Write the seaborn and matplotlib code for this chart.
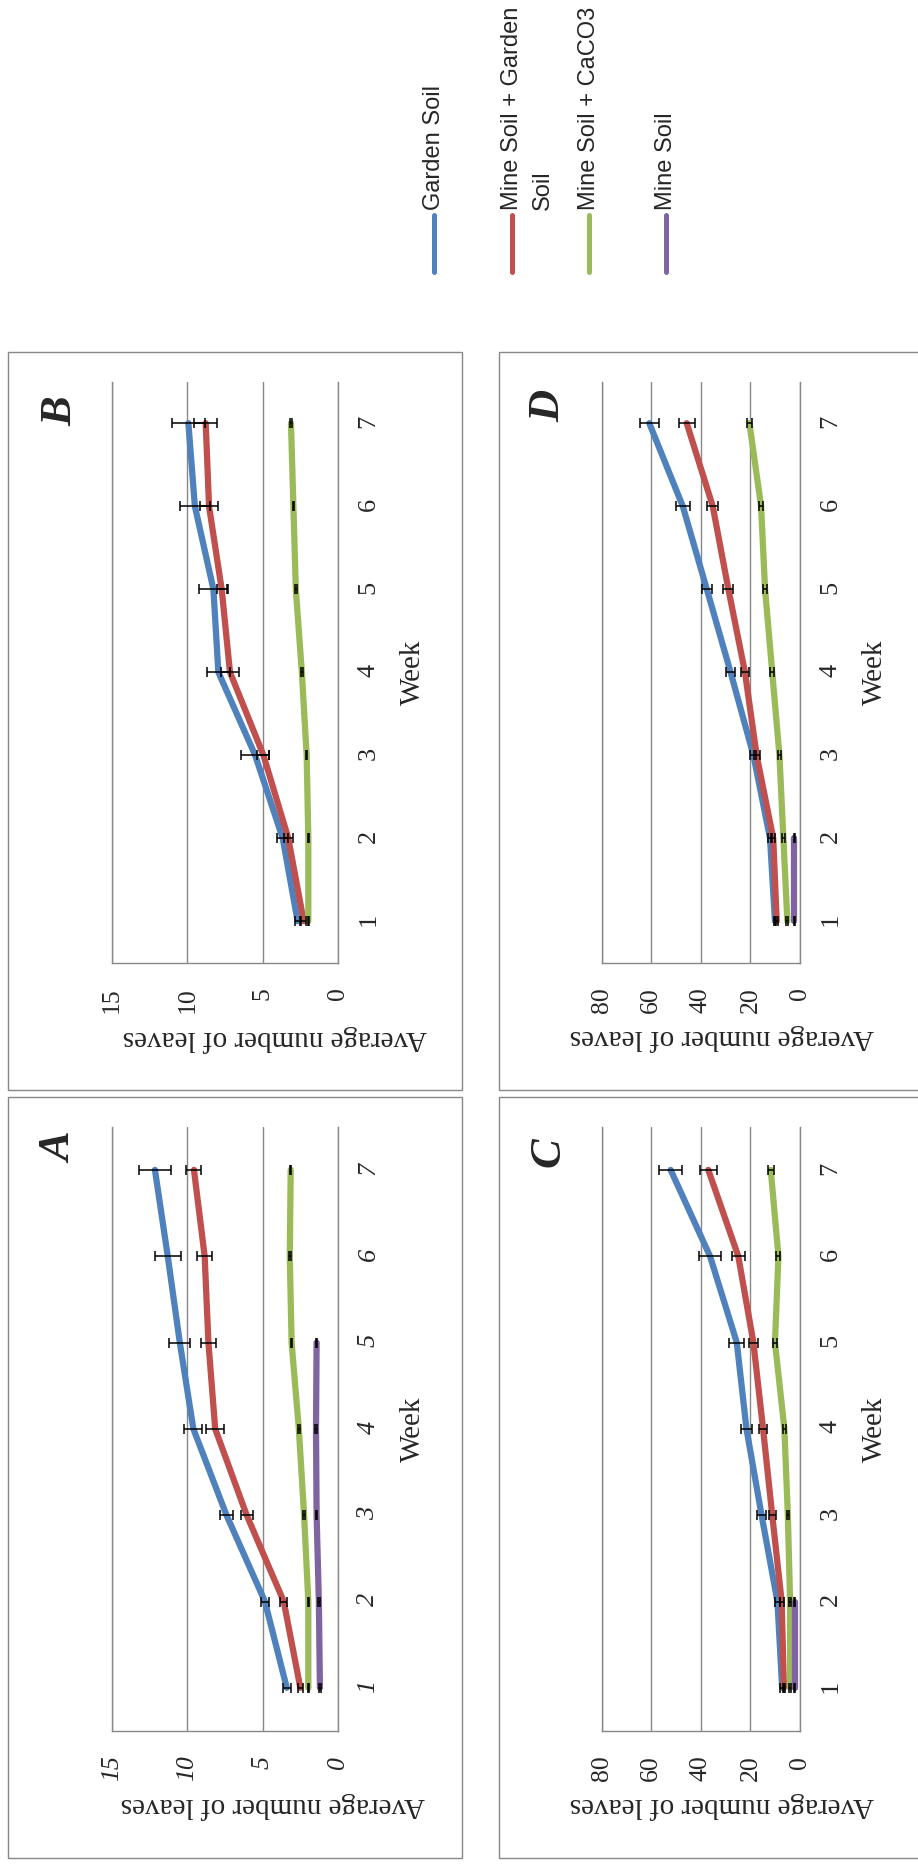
import matplotlib
matplotlib.use("Agg")
import matplotlib.pyplot as plt
from matplotlib.lines import Line2D
from matplotlib.patches import Rectangle
import numpy as np
import pandas as pd
import seaborn as sns

# ── Data ────────────────────────────────────────────────
SOILS = ["Garden Soil", "Mine Soil + Garden Soil", "Mine Soil + CaCO3", "Mine Soil"]
COLORS = ["#4F81BD", "#C0504D", "#9BBB59", "#8064A2"]
WEEKS = [1, 2, 3, 4, 5, 6, 7]
NA = np.nan

# Panel A
a_garden = [3.4, 4.85, 7.4, 9.6, 10.5, 11.3, 12.15]
a_garden_err = [0.25, 0.28, 0.44, 0.59, 0.71, 0.86, 1.07]
a_mix = [2.5, 3.6, 6.06, 8.15, 8.6, 8.85, 9.56]
a_mix_err = [0.17, 0.22, 0.39, 0.6, 0.48, 0.5, 0.5]
a_caco3 = [1.97, 1.97, 2.25, 2.6, 3.08, 3.2, 3.14]
a_caco3_err = [0.05, 0.05, 0.05, 0.05, 0.05, 0.05, 0.05]
a_mine = [1.2, 1.27, 1.42, 1.46, 1.42, NA, NA]
a_mine_err = [0.05, 0.05, 0.05, 0.05, 0.05, NA, NA]

# Panel B
b_garden = [2.68, 3.67, 5.5, 7.94, 8.27, 9.5, 9.93]
b_garden_err = [0.18, 0.35, 0.95, 0.77, 0.95, 1.0, 1.08]
b_mix = [2.28, 3.3, 4.95, 7.17, 7.72, 8.56, 8.78]
b_mix_err = [0.15, 0.3, 0.4, 0.58, 0.33, 0.6, 0.75]
b_caco3 = [1.97, 1.97, 2.08, 2.4, 2.8, 2.96, 3.12]
b_caco3_err = [0.05, 0.05, 0.05, 0.05, 0.05, 0.05, 0.05]
b_mine = [NA, NA, NA, NA, NA, NA, NA]
b_mine_err = [NA, NA, NA, NA, NA, NA, NA]

# Panel C
c_garden = [7.2, 9.1, 15.5, 21.6, 25.5, 36.3, 52.2]
c_garden_err = [0.7, 1.0, 1.9, 2.3, 3.0, 4.3, 4.7]
c_mix = [6.5, 7.4, 11.2, 14.9, 18.8, 24.9, 37.0]
c_mix_err = [0.5, 0.8, 1.5, 1.6, 1.9, 2.6, 3.4]
c_caco3 = [4.0, 4.0, 4.9, 6.3, 10.1, 8.7, 11.8]
c_caco3_err = [0.3, 0.3, 0.4, 0.5, 0.8, 0.8, 1.3]
c_mine = [2.1, 2.1, NA, NA, NA, NA, NA]
c_mine_err = [0.2, 0.2, NA, NA, NA, NA, NA]

# Panel D
d_garden = [10.1, 12.1, 18.8, 28.0, 37.6, 47.3, 60.8]
d_garden_err = [0.5, 0.8, 1.2, 1.7, 2.0, 2.9, 3.9]
d_mix = [9.4, 10.8, 17.5, 22.2, 28.9, 35.2, 45.7]
d_mix_err = [0.5, 0.8, 1.2, 1.7, 2.0, 2.2, 3.2]
d_caco3 = [5.1, 6.7, 8.3, 11.2, 14.1, 15.7, 20.4]
d_caco3_err = [0.4, 0.5, 0.6, 0.8, 0.9, 0.8, 1.0]
d_mine = [2.3, 2.3, NA, NA, NA, NA, NA]
d_mine_err = [0.2, 0.2, NA, NA, NA, NA, NA]

A_TICKS = [0, 5, 10, 15]
CD_TICKS = [0, 20, 40, 60, 80]

# ── Layout (pixels of the 918x1866 picture) ─────────────
W, H = 918, 1866
GRID = "#888888"


def px_rect(left, top, right, bottom):
    return [left / W, 1 - bottom / H, (right - left) / W, (bottom - top) / H]


def long_table(values, errors):
    rows = []
    for soil, vals, errs in zip(SOILS, values, errors):
        for w, v, e in zip(WEEKS, vals, errs):
            rows.append({"soil": soil, "week": w, "leaves": v, "err": e})
    return pd.DataFrame(rows).dropna()


def draw_panel(fig, letter, values, errors, ticks, box, frame, letter_xy,
               xlabel_xy, week_x, italic=False):
    # moldura do gráfico (estilo Excel)
    fl, ft, fr, fb = frame
    fig.add_artist(Rectangle((fl / W, 1 - fb / H), (fr - fl) / W, (fb - ft) / H,
                             transform=fig.transFigure, fill=False,
                             edgecolor=GRID, lw=1.0))

    ax = fig.add_axes(px_rect(*box))
    df = long_table(values, errors)
    used = [s for s in SOILS if s in set(df["soil"])]
    pal = {s: c for s, c in zip(SOILS, COLORS)}

    sns.lineplot(data=df, x="leaves", y="week", hue="soil", hue_order=used,
                 palette=pal, orient="y", estimator=None, errorbar=None,
                 linewidth=4.5, solid_capstyle="round", solid_joinstyle="round",
                 legend=False, ax=ax, zorder=2)
    for soil in used:
        sub = df[df["soil"] == soil]
        ax.errorbar(sub["leaves"], sub["week"], xerr=sub["err"], fmt="none",
                    ecolor="black", elinewidth=1.1, capsize=3.6, capthick=1.1,
                    zorder=3)

    ax.set_xlim(ticks[-1], 0)
    ax.set_ylim(0.5, 7.5)
    ax.set_xticks(ticks)
    ax.set_yticks(WEEKS)
    ax.grid(axis="x", color=GRID, lw=1.0)
    ax.grid(axis="y", visible=False)
    ax.set_axisbelow(True)
    for side in ["left", "right", "bottom"]:
        ax.spines[side].set_color(GRID)
        ax.spines[side].set_linewidth(1.0)
    ax.spines["top"].set_visible(False)

    ax.yaxis.tick_right()
    ax.tick_params(axis="x", direction="out", length=5.8, width=1.0, color=GRID,
                   labelrotation=90, pad=12, labelsize=18.5)
    ax.tick_params(axis="y", length=0, labelrotation=90, pad=14, labelsize=19)
    if italic:
        for lbl in ax.get_xticklabels() + ax.get_yticklabels():
            lbl.set_fontstyle("italic")

    ax.set_xlabel("Average number of leaves", fontsize=21, rotation=180)
    ax.xaxis.set_label_coords(*xlabel_xy)
    ax.xaxis.label.set(ha="center", va="center")
    ax.set_ylabel("Week", fontsize=21, rotation=90)
    ax.yaxis.set_label_position("right")
    ax.yaxis.set_label_coords(week_x, 0.5)
    ax.yaxis.label.set(ha="center", va="center", rotation_mode="default")

    fig.text(letter_xy[0] / W, 1 - letter_xy[1] / H, letter, rotation=90,
             ha="center", va="center", fontsize=32, fontweight="bold",
             fontstyle="italic")
    return ax


sns.set_style("white")
plt.rcParams["font.family"] = ["Liberation Serif", "DejaVu Serif"]

fig = plt.figure(figsize=(W / 100, H / 100), dpi=100)

draw_panel(fig, "A", [a_garden, a_mix, a_caco3, a_mine],
           [a_garden_err, a_mix_err, a_caco3_err, a_mine_err], A_TICKS,
           (112, 1126.7, 338, 1731), (8, 1097, 462, 1858), (60, 1148),
           (0.714, -0.124), 1.332, italic=True)
draw_panel(fig, "B", [b_garden, b_mix, b_caco3, b_mine],
           [b_garden_err, b_mix_err, b_caco3_err, b_mine_err], A_TICKS,
           (112, 381.7, 338, 962.7), (8, 352, 462, 1090), (60, 411),
           (0.719, -0.13), 1.332)
draw_panel(fig, "C", [c_garden, c_mix, c_caco3, c_mine],
           [c_garden_err, c_mix_err, c_caco3_err, c_mine_err], CD_TICKS,
           (601.7, 1126.7, 800, 1731), (499, 1097, 930, 1858), (548, 1152),
           (0.604, -0.124), 1.378)
draw_panel(fig, "D", [d_garden, d_mix, d_caco3, d_mine],
           [d_garden_err, d_mix_err, d_caco3_err, d_mine_err], CD_TICKS,
           (601.7, 381.7, 800, 962.7), (499, 352, 930, 1090), (548, 406),
           (0.604, -0.128), 1.378)

# ── Legenda (rotacionada, no topo) ──────────────────────
legend_x = [434, 512, 589, 666]
legend_text = ["Garden Soil", "Mine Soil + Garden", "Mine Soil + CaCO3", "Mine Soil"]
for x, label, color in zip(legend_x, legend_text, COLORS):
    fig.add_artist(Line2D([x / W, x / W], [1 - 215 / H, 1 - 272 / H],
                          transform=fig.transFigure, color=color, lw=3.6,
                          solid_capstyle="round"))
    fig.text(x / W, 1 - 210 / H, label, rotation=90, rotation_mode="anchor",
             ha="left", va="center", fontsize=17, family="Liberation Sans")
fig.text(543 / W, 1 - 210 / H, "Soil", rotation=90, rotation_mode="anchor",
         ha="left", va="center", fontsize=17, family="Liberation Sans")

plt.savefig("out.png", dpi=100)
